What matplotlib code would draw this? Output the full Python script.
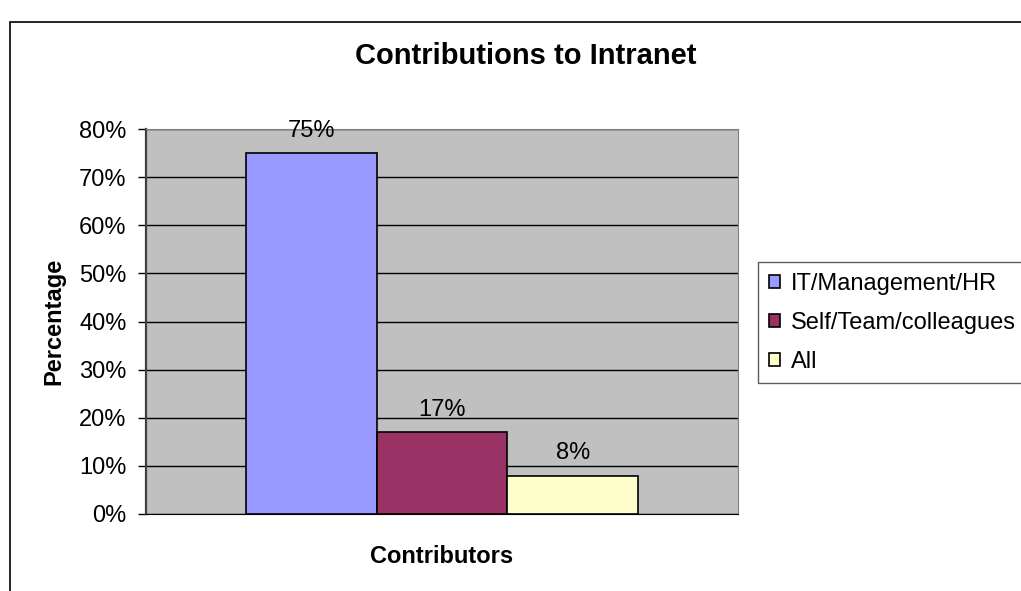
import matplotlib.pyplot as plt
from matplotlib.patches import Rectangle
from matplotlib.ticker import PercentFormatter

plt.rcParams['font.family'] = ['Liberation Sans', 'DejaVu Sans']

# survey results
contributors = ['IT/Management/HR', 'Self/Team/colleagues', 'All']
shares = [75, 17, 8]
colors = ['#9999FF', '#993366', '#FFFFCC']

fig = plt.figure(figsize=(10.21, 5.91), dpi=100)
ax = fig.add_axes([146 / 1021, 77 / 591, 592 / 1021, 385 / 591])

# outer chart frame (runs off the right and bottom edges)
fig.patches.append(Rectangle((10 / 1021, -0.1), 1.2, 1.1 - 22 / 591,
                             transform=fig.transFigure, fill=False,
                             edgecolor='black', linewidth=1.2))

pos = [-1, 0, 1]
bars = ax.bar(pos, shares, width=1.0, color=colors, edgecolor='black',
              linewidth=1.2, zorder=3)
for p, v in zip(pos, shares):
    ax.annotate('%d%%' % v, (p, v), xytext=(0, 8), textcoords='offset points',
                ha='center', va='bottom', fontsize=17)

ax.set_facecolor('#C0C0C0')
ax.set_xlim(-2.26, 2.26)
ax.set_ylim(0, 80)
ax.set_yticks(range(0, 81, 10))
ax.yaxis.set_major_formatter(PercentFormatter(decimals=0))
ax.set_xticks([])
ax.yaxis.grid(True, color='black', linewidth=1, zorder=1)
ax.set_axisbelow(True)
ax.tick_params(axis='y', length=6, width=1, labelsize=17, pad=8)

ax.spines['left'].set_color('#404040')
ax.spines['left'].set_linewidth(1.6)
ax.spines['bottom'].set_color('black')
ax.spines['top'].set_color('#808080')
ax.spines['right'].set_color('#808080')

ax.set_ylabel('Percentage', fontsize=17, fontweight='bold', labelpad=10)
ax.set_xlabel('Contributors', fontsize=17, fontweight='bold', labelpad=22)
fig.text(526 / 1021, 1 - 56 / 591, 'Contributions to Intranet',
         ha='center', va='center', fontsize=21, fontweight='bold')

leg = fig.legend(bars, contributors, loc='upper left',
                 bbox_to_anchor=(758 / 1021, 1 - 262 / 591),
                 fontsize=17, frameon=True, fancybox=False,
                 handlelength=0.5, handleheight=0.5, handletextpad=0.45,
                 borderpad=0.45, labelspacing=0.72, borderaxespad=0)
leg.get_frame().set_edgecolor('#333333')
leg.get_frame().set_linewidth(1)

fig.savefig('out.png', dpi=100)
